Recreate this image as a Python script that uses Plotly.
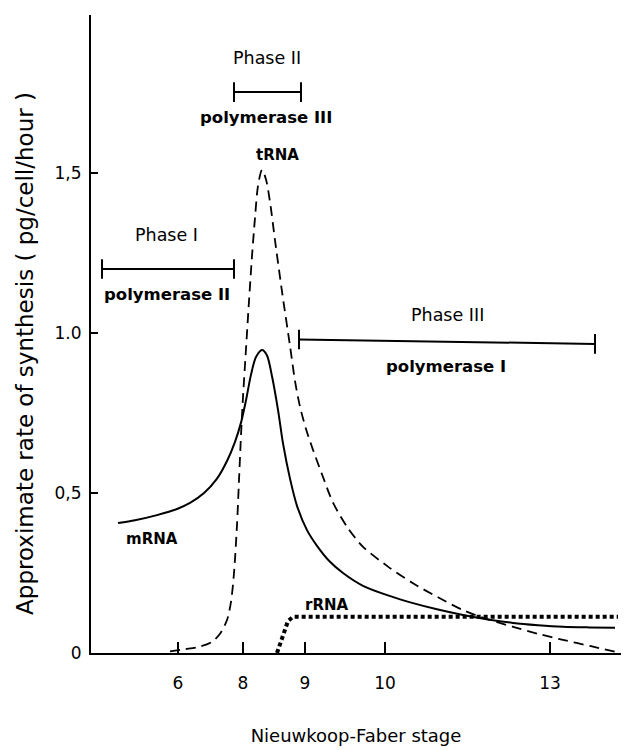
import plotly.graph_objects as go

# x positions are in "axis position" units (the stage axis is not linear)
stage_tick_pos = [87, 152, 214, 294, 459]
stage_tick_text = ["6", "8", "9", "10", "13"]

y_tick_vals = [0, 0.5, 1.0, 1.5]
y_tick_text = ["0", "0,5", "1.0", "1,5"]

mrna_x = [27, 44, 66, 86, 99, 113, 126, 136, 144, 150, 155, 160, 165, 171, 176, 181, 187, 192, 199, 206, 216, 226, 239, 252, 272, 297, 322, 347, 372, 397, 422, 447, 472, 498, 524]
mrna_y = [0.406, 0.415, 0.431, 0.450, 0.469, 0.50, 0.545, 0.60, 0.66, 0.72, 0.79, 0.87, 0.925, 0.947, 0.93, 0.865, 0.76, 0.655, 0.545, 0.46, 0.384, 0.335, 0.285, 0.25, 0.21, 0.18, 0.156, 0.136, 0.119, 0.105, 0.094, 0.087, 0.082, 0.080, 0.079]

trna_x = [79, 94, 109, 121, 129, 136, 140, 143, 146, 148, 150, 152, 155, 158, 161, 164, 167, 171, 175, 179, 184, 191, 199, 204, 209, 215, 222, 232, 242, 257, 272, 297, 322, 347, 372, 397, 422, 447, 472, 499, 524]
trna_y = [0.005, 0.012, 0.02, 0.035, 0.06, 0.103, 0.16, 0.25, 0.4, 0.54, 0.68, 0.8, 0.95, 1.1, 1.24, 1.36, 1.46, 1.51, 1.48, 1.41, 1.29, 1.13, 0.96, 0.85, 0.77, 0.70, 0.635, 0.55, 0.47, 0.39, 0.332, 0.27, 0.218, 0.174, 0.134, 0.105, 0.082, 0.06, 0.041, 0.022, 0.004]

rrna_x = [186, 192, 197, 202, 527]
rrna_y = [0, 0.06, 0.1, 0.113, 0.113]

phase_names = ["Phase I", "Phase II", "Phase III"]
phase_enzymes = ["polymerase II", "polymerase III", "polymerase I"]
phase_start = [11, 143, 208]
phase_end = [143, 210, 504]
phase_level_start = [1.2, 1.753, 0.98]
phase_level_end = [1.2, 1.753, 0.966]

y_title = "Approximate rate of synthesis ( pg/cell/hour )"
x_title = "Nieuwkoop-Faber stage"

fig = go.Figure()

fig.add_trace(go.Scatter(x=mrna_x, y=mrna_y, mode="lines",
                         line=dict(color="black", width=2, shape="spline", smoothing=0.8),
                         hoverinfo="skip"))
fig.add_trace(go.Scatter(x=trna_x, y=trna_y, mode="lines",
                         line=dict(color="black", width=1.8, dash="10px,6px", shape="spline", smoothing=0.8),
                         hoverinfo="skip"))
fig.add_trace(go.Scatter(x=rrna_x, y=rrna_y, mode="lines",
                         line=dict(color="black", width=4, dash="4px,3px"),
                         hoverinfo="skip"))

for i in range(len(phase_names)):
    fig.add_trace(go.Scatter(x=[phase_start[i], phase_end[i]],
                             y=[phase_level_start[i], phase_level_end[i]],
                             mode="lines+markers",
                             line=dict(color="black", width=2),
                             marker=dict(symbol="line-ns", size=14,
                                         line=dict(color="black", width=2)),
                             hoverinfo="skip"))

reg = dict(family="DejaVu Sans", size=17.5, color="black")
bold = dict(family="DejaVu Sans", size=16.5, color="black", weight="bold")
bold_c = dict(family="DejaVu Sans", size=15, color="black", weight="bold")

# label positions (x, y) for phase names and enzymes
phase_label_x = [75, 176, 356]
enzyme_label_x = [76, 175, 355]
phase_label_y = [1.306, 1.859, 1.056]
enzyme_label_y = [1.119, 1.675, 0.897]

for i in range(len(phase_names)):
    fig.add_annotation(x=phase_label_x[i], y=phase_label_y[i], text=phase_names[i],
                       showarrow=False, font=reg)
    fig.add_annotation(x=enzyme_label_x[i], y=enzyme_label_y[i], text=phase_enzymes[i],
                       showarrow=False, font=bold)

curve_labels = ["tRNA", "mRNA", "rRNA"]
curve_label_x = [186, 61, 236]
curve_label_y = [1.556, 0.356, 0.15]
for t, x, y in zip(curve_labels, curve_label_x, curve_label_y):
    fig.add_annotation(x=x, y=y, text=t, showarrow=False, font=bold_c)

# y-axis title as a rotated annotation (placed slightly below the axis centre)
fig.add_annotation(xref="paper", yref="paper", x=-0.125, y=0.47,
                   text=y_title, textangle=-90, showarrow=False,
                   xanchor="center", yanchor="middle",
                   font=dict(family="DejaVu Sans", size=23, color="black"))

# The page body adds an 8px offset, so the figure is 8px smaller than the window
fig.update_layout(
    width=622, height=742,
    margin=dict(l=83, r=9, t=7, b=97, autoexpand=False),
    plot_bgcolor="white", paper_bgcolor="white",
    showlegend=False,
    xaxis=dict(range=[0, 530], showgrid=False, zeroline=False, automargin=False,
               showline=True, linecolor="black", linewidth=2,
               tickmode="array", tickvals=stage_tick_pos, ticktext=stage_tick_text,
               ticks="inside", ticklen=11, tickwidth=1.5, tickcolor="black",
               ticklabelstandoff=14,
               tickfont=dict(family="DejaVu Sans", size=17, color="black"),
               title=dict(text=x_title, standoff=37,
                          font=dict(family="DejaVu Sans", size=18, color="black"))),
    yaxis=dict(range=[0, 1.994], showgrid=False, zeroline=False, automargin=False,
               showline=True, linecolor="black", linewidth=2,
               tickmode="array", tickvals=y_tick_vals, ticktext=y_tick_text,
               ticks="inside", ticklen=7, tickwidth=2, tickcolor="black",
               ticklabelstandoff=4,
               tickfont=dict(family="DejaVu Sans", size=17, color="black")),
)

fig.write_html("out.html")
